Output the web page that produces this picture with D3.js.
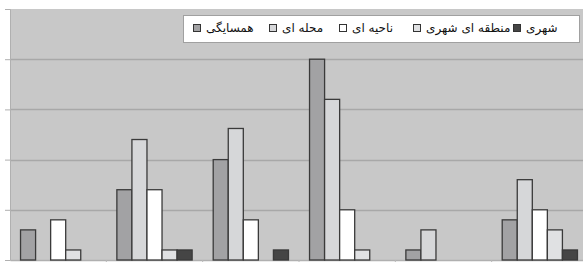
<!DOCTYPE html>
<html><head><meta charset="utf-8">
<script src="https://cdn.jsdelivr.net/npm/d3@7"></script>
<style>html,body{margin:0;padding:0;background:#fff;overflow:hidden}</style>
</head><body>
<svg id="c" width="583" height="262"></svg>
<script>
const categories = ["1","2","3","4","5","6"];
const seriesNames = ["همسایگی","محله ای","ناحیه ای","منطقه ای شهری","شهری"];
const hamsayegi   = [6, 14, 20, 40, 2, 8];
const mahalle     = [0, 24, 26.2, 32, 6, 16];
const nahie       = [8, 14, 8, 10, 0, 10];
const mantaghe    = [2, 2, 0, 2, 0, 6];
const shahri      = [0, 2, 2, 0, 0, 2];
const yTicks = [0, 10, 20, 30, 40, 50];

const seriesValues = [hamsayegi, mahalle, nahie, mantaghe, shahri];
const colors = ["#a2a2a4", "#d6d7d9", "#ffffff", "#e0e1e3", "#454545"];

const svg = d3.select("#c");
const L = 10, R = 588, T = 9, B = 260;
const x0 = d3.scaleBand().domain(categories).range([L, R]).paddingInner(0).paddingOuter(0);
const x1 = d3.scaleBand().domain(d3.range(seriesNames.length)).range([0, x0.bandwidth()]).paddingOuter(0.7).paddingInner(0);
const y = d3.scaleLinear().domain([0, 50]).range([B, T]);

svg.append("rect").attr("x", L).attr("y", T).attr("width", R - L).attr("height", B - T).attr("fill", "#c8c8c8");

svg.append("g").selectAll("line").data(yTicks.filter(d => d > 0 && d < 50)).join("line")
  .attr("x1", L).attr("x2", R).attr("y1", d => Math.round(y(d)) + 0.5).attr("y2", d => Math.round(y(d)) + 0.5)
  .attr("stroke", "#a8a8a8").attr("stroke-width", 1.5);

const yAxis = svg.append("g").attr("transform", `translate(${L},0)`)
  .call(d3.axisLeft(y).tickValues(yTicks).tickSize(5).tickFormat(""));
yAxis.select(".domain").attr("stroke", "#b0b0b0");
yAxis.selectAll(".tick line").attr("stroke", "#b0b0b0");

const xAxis = svg.append("g").attr("transform", `translate(0,${B})`)
  .call(d3.axisBottom(x0).tickSize(0).tickFormat(""));
xAxis.select(".domain").attr("stroke", "#b0b0b0").attr("stroke-width", 1.5);
svg.append("g").selectAll("line").data(categories.slice(1)).join("line")
  .attr("x1", d => x0(d)).attr("x2", d => x0(d)).attr("y1", B).attr("y2", B + 3)
  .attr("stroke", "#b8b8b8");

const groups = svg.append("g").selectAll("g").data(categories).join("g")
  .attr("transform", d => `translate(${x0(d)},0)`);
groups.selectAll("rect").data((c, ci) => seriesValues.map((s, si) => ({si, v: s[ci]})).filter(d => d.v > 0)).join("rect")
  .attr("x", d => x1(d.si))
  .attr("y", d => y(d.v))
  .attr("width", x1.bandwidth())
  .attr("height", d => y(0) - y(d.v))
  .attr("fill", d => colors[d.si])
  .attr("stroke", "#3a3a3a").attr("stroke-width", 1.3);

const lg = svg.append("g");
lg.append("rect").attr("x", 183.5).attr("y", 15.5).attr("width", 396).attr("height", 27)
  .attr("fill", "#fff").attr("stroke", "#a0a0a0");
const legendBoxX = [193, 269, 339, 413, 513];
seriesNames.forEach((n, i) => {
  lg.append("rect").attr("x", legendBoxX[i] + 0.5).attr("y", 24.5).attr("width", 7).attr("height", 7)
    .attr("fill", colors[i]).attr("stroke", "#333").attr("stroke-width", 1);
  lg.append("text").attr("x", legendBoxX[i] + 13).attr("y", 32)
    .attr("font-family", "DejaVu Sans").attr("font-size", 12).attr("fill", "#111")
    .attr("text-anchor", "start")
    .text(n);
});
</script>
</body></html>
